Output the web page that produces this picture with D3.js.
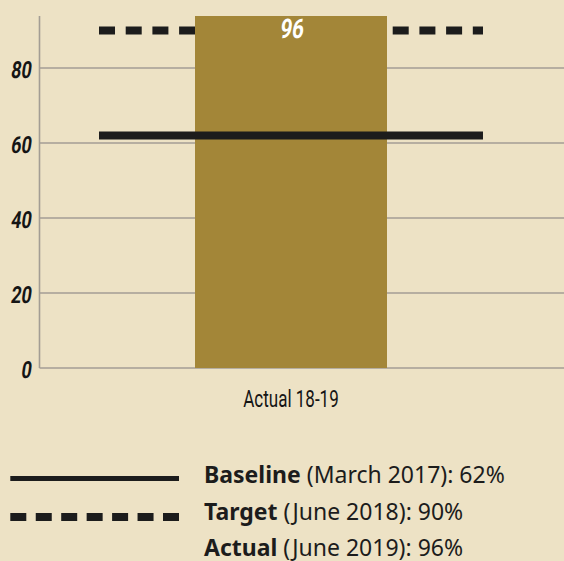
<!DOCTYPE html>
<html>
<head>
<meta charset="utf-8">
<script src="https://cdn.jsdelivr.net/npm/d3@7"></script>
<style>
  html, body { margin: 0; padding: 0; background: #ede2c5; }
  svg { display: block; }
  .narrow { font-family: "Roboto", "Liberation Sans", sans-serif; }
  .legend text { font-family: "Noto Sans", "Open Sans", sans-serif; fill: #1c1c1c; }
</style>
</head>
<body>
<div class="chart"></div>
<script>
// data
let categories = ["Actual 18-19"];
let actualValues = [96];
let baselineValue = 62;
let targetValue = 90;
let yTicks = [0, 20, 40, 60, 80];
let legendItems = [
  {bold: "Baseline", rest: " (March 2017): 62%", line: "solid"},
  {bold: "Target", rest: " (June 2018): 90%", line: "dash"},
  {bold: "Actual", rest: " (June 2019): 96%", line: "none"}
];

let width = 564, height = 561;
let plotTop = 16, plotBottom = 368, plotLeft = 39.5;
let squeeze = 0.76; // condensed look for the chart labels
let slant = " skewX(-11)"; // italic look, same whatever faces are installed

let svg = d3.select(".chart").append("svg")
  .attr("width", width)
  .attr("height", height);

svg.append("rect").attr("width", width).attr("height", height).attr("fill", "#ede2c5");

let y = d3.scaleLinear().domain([0, 100]).range([plotBottom, plotBottom - 375]);
let x = d3.scaleBand().domain(categories).range([plotLeft, 542.5]).padding(0.4475);

svg.append("clipPath").attr("id", "plotclip")
  .append("rect")
  .attr("x", 0).attr("y", plotTop)
  .attr("width", width).attr("height", plotBottom - plotTop);

// gridlines
svg.append("g")
  .selectAll("line")
  .data(yTicks)
  .enter()
  .append("line")
  .attr("x1", plotLeft)
  .attr("x2", width)
  .attr("y1", d => y(d))
  .attr("y2", d => y(d))
  .attr("stroke", "#a39d94")
  .attr("stroke-width", 1.4);

// y axis line
svg.append("line")
  .attr("x1", plotLeft).attr("x2", plotLeft)
  .attr("y1", plotTop).attr("y2", plotBottom)
  .attr("stroke", "#a39d94")
  .attr("stroke-width", 1.6);

// tick labels
svg.append("g")
  .selectAll("text")
  .data(yTicks)
  .enter()
  .append("text")
  .attr("class", "narrow")
  .attr("transform", d => "translate(30.7," + (y(d) + 9.6) + ") scale(" + squeeze + ",1)" + slant)
  .attr("text-anchor", "end")
  .style("font-size", "23.5px")
  .style("font-weight", "bold")
  .style("fill", "#151515")
  .text(d => d);

// baseline and target lines, half a band past each side of the bar
let lx1 = x(categories[0]) - x.bandwidth() / 2;
let lx2 = x(categories[categories.length - 1]) + x.bandwidth() * 1.5;

// target sits behind the bar
svg.append("line")
  .attr("x1", lx1).attr("x2", lx2)
  .attr("y1", y(targetValue)).attr("y2", y(targetValue))
  .attr("stroke", "#1c1c1c")
  .attr("stroke-width", 8)
  .attr("stroke-dasharray", "16,10.7");

// bars
let bars = svg.append("g").attr("clip-path", "url(#plotclip)");
bars.selectAll("rect")
  .data(categories)
  .enter()
  .append("rect")
  .attr("x", d => x(d))
  .attr("y", (d, i) => y(actualValues[i]))
  .attr("width", x.bandwidth())
  .attr("height", (d, i) => y(0) - y(actualValues[i]))
  .attr("fill", "#a38638");

// baseline on top
svg.append("line")
  .attr("x1", lx1).attr("x2", lx2)
  .attr("y1", y(baselineValue)).attr("y2", y(baselineValue))
  .attr("stroke", "#1c1c1c")
  .attr("stroke-width", 8);

// value label
svg.append("g")
  .selectAll("text")
  .data(categories)
  .enter()
  .append("text")
  .attr("class", "narrow")
  .attr("transform", d => "translate(" + (x(d) + x.bandwidth() / 2) + ",37.5) scale(" + squeeze + ",1)" + slant)
  .attr("text-anchor", "middle")
  .style("font-size", "27px")
  .style("font-weight", "bold")
  .style("fill", "#ffffff")
  .text((d, i) => actualValues[i]);

// x axis label
svg.append("g")
  .selectAll("text")
  .data(categories)
  .enter()
  .append("text")
  .attr("class", "narrow")
  .attr("transform", d => "translate(" + (x(d) + x.bandwidth() / 2) + ",406.5) scale(0.74,1)")
  .attr("text-anchor", "middle")
  .style("font-size", "23px")
  .style("fill", "#151515")
  .text(d => d);

// legend
let legend = svg.append("g").attr("class", "legend");
let rowY = [478.5, 517, 553];
let textY = [483, 520, 555.5];

legendItems.forEach((item, i) => {
  if (item.line === "solid") {
    legend.append("line")
      .attr("x1", 10.3).attr("x2", 179)
      .attr("y1", rowY[i]).attr("y2", rowY[i])
      .attr("stroke", "#1c1c1c").attr("stroke-width", 5);
  } else if (item.line === "dash") {
    legend.append("line")
      .attr("x1", 10.3).attr("x2", 179)
      .attr("y1", rowY[i]).attr("y2", rowY[i])
      .attr("stroke", "#1c1c1c").attr("stroke-width", 8)
      .attr("stroke-dasharray", "16,9.45");
  }
  let t = legend.append("text")
    .attr("x", 204)
    .attr("y", textY[i])
    .style("font-size", "23px");
  t.append("tspan").style("font-weight", "bold").text(item.bold);
  t.append("tspan").text(item.rest);
});
</script>
</body>
</html>
